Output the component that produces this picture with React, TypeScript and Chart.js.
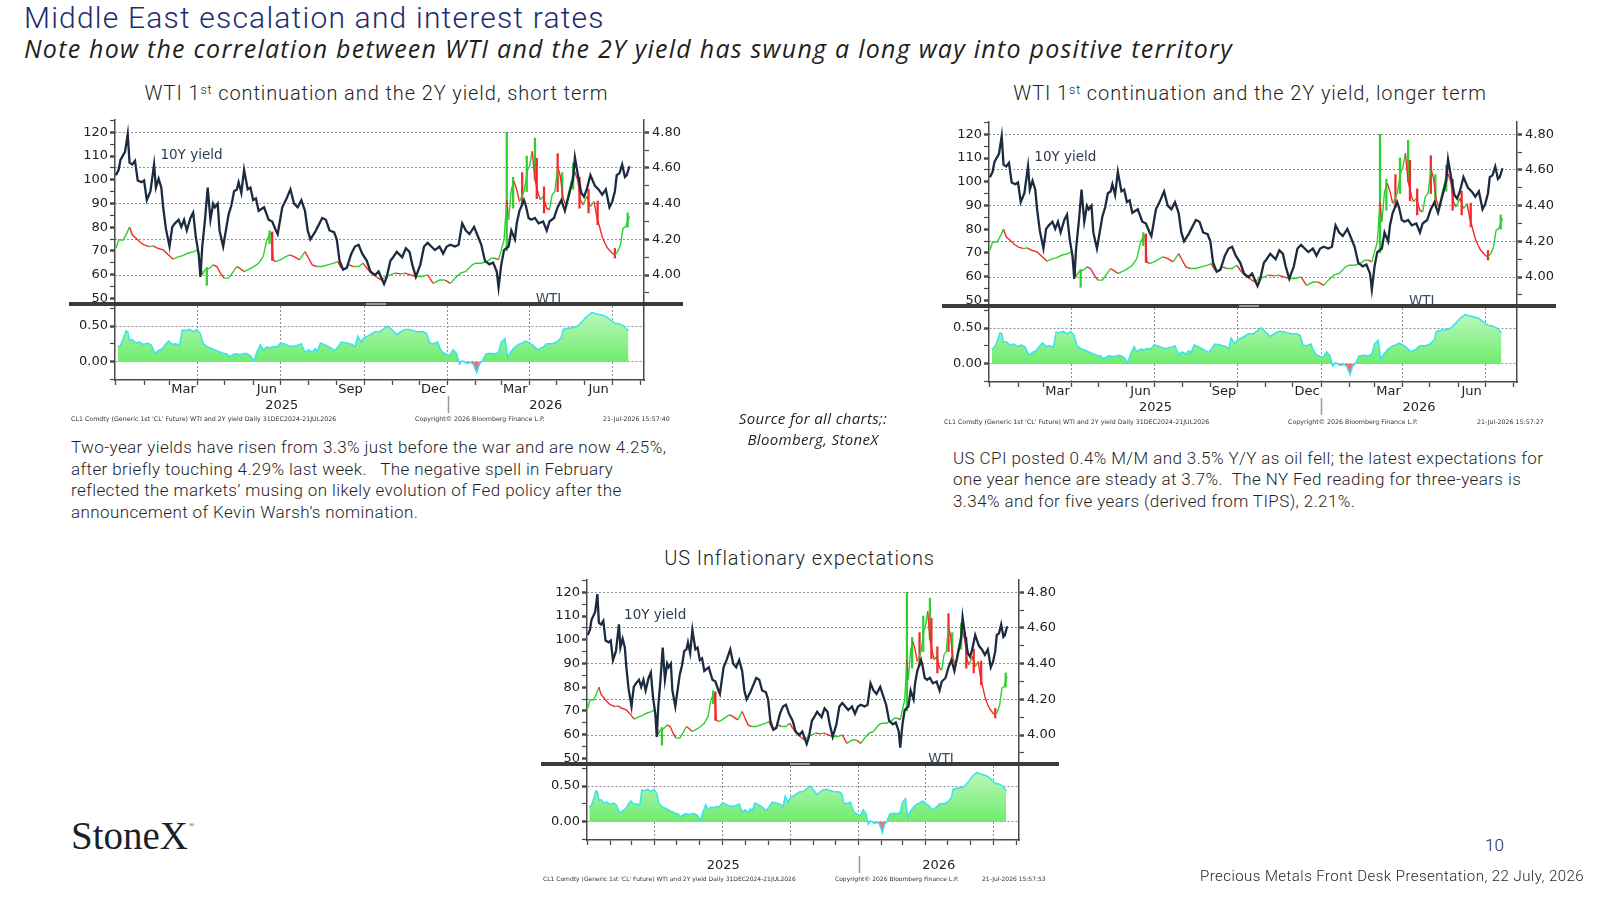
import React, { useEffect, useRef } from "react";
import { Chart, registerables } from "chart.js";

Chart.register(...registerables);

// ---------------- data (x = days since 1 Jan 2025) ----------------
const YIELD_DAYS = [
  0, 3, 5, 10, 13, 15, 18, 21, 24, 28,
  31, 34, 38, 42, 44, 47, 50, 52, 55, 59,
  62, 65, 69, 72, 75, 78, 82, 85, 88, 91,
  93, 95, 98, 101, 104, 107, 109, 112, 114, 118,
  121, 124, 127, 130, 133, 135, 138, 141, 145, 148,
  151, 154, 157, 163, 168, 172, 176, 178, 183, 187,
  192, 196, 200, 204, 208, 211, 214, 219, 222, 227,
  231, 235, 240, 243, 246, 250, 254, 259, 263, 267,
  271, 276, 280, 285, 289, 295, 298, 302, 305, 309,
  315, 319, 323, 326, 330, 335, 339, 343, 347, 351,
  356, 360, 364, 368, 373, 377, 381, 385, 389, 394,
  398, 402, 406, 411, 415, 419, 421, 424, 427, 432,
  435, 439, 441, 444, 449, 451, 454, 457, 461, 465,
  470, 474, 477, 482, 486, 490, 494, 498, 503, 505,
  508, 512, 515, 518, 522, 527, 531, 535, 539, 543,
  546, 549, 551, 554, 557, 560, 562, 565,
];
const YIELD = [
  4.56, 4.59, 4.645, 4.69, 4.79, 4.63, 4.62, 4.64, 4.53, 4.52,
  4.53, 4.42, 4.47, 4.62, 4.49, 4.54, 4.49, 4.38, 4.26, 4.16,
  4.27, 4.29, 4.31, 4.27, 4.31, 4.25, 4.32, 4.35, 4.21, 4.12,
  3.99, 4.16, 4.31, 4.49, 4.31, 4.40, 4.38, 4.40, 4.25, 4.16,
  4.25, 4.34, 4.39, 4.47, 4.48, 4.52, 4.46, 4.59, 4.48, 4.49,
  4.42, 4.43, 4.36, 4.38, 4.31, 4.30, 4.25, 4.23, 4.38, 4.42,
  4.48, 4.40, 4.38, 4.42, 4.36, 4.25, 4.20, 4.24, 4.27, 4.32,
  4.31, 4.25, 4.24, 4.20, 4.08, 4.03, 4.04, 4.12, 4.16, 4.17,
  4.12, 4.08, 4.02, 4.00, 4.02, 3.95, 3.99, 4.08, 4.10, 4.13,
  4.10, 4.15, 4.13, 4.06, 3.99, 4.06, 4.16, 4.18, 4.16, 4.14,
  4.16, 4.12, 4.16, 4.17, 4.16, 4.17, 4.29, 4.25, 4.23, 4.27,
  4.22, 4.17, 4.08, 4.06, 4.07, 4.02, 3.93, 4.06, 4.14, 4.16,
  4.25, 4.20, 4.29, 4.36, 4.42, 4.39, 4.32, 4.31, 4.32, 4.29,
  4.30, 4.25, 4.30, 4.32, 4.38, 4.42, 4.36, 4.44, 4.54, 4.66,
  4.57, 4.46, 4.44, 4.48, 4.56, 4.50, 4.48, 4.45, 4.48, 4.38,
  4.41, 4.47, 4.56, 4.57, 4.62, 4.55, 4.56, 4.61,
];

const WTI_DAYS = [
  0, 3, 8, 12, 15, 18, 22, 27, 31, 37,
  41, 46, 52, 58, 63, 69, 73, 79, 86, 90,
  93, 95, 98, 103, 107, 111, 115, 119, 124, 128,
  133, 136, 141, 145, 149, 153, 157, 162, 166, 169,
  171, 173, 176, 181, 187, 191, 196, 202, 208, 212,
  216, 221, 227, 233, 240, 244, 248, 252, 257, 261,
  267, 272, 276, 281, 286, 292, 297, 302, 307, 314,
  318, 324, 330, 337, 343, 349, 356, 362, 368, 373,
  379, 385, 392, 396, 402, 408, 413, 417, 421, 424,
  427, 430, 432, 435, 438, 441, 444, 449, 453, 455,
  458, 461, 465, 467, 470, 474, 477, 480, 483, 486,
  489, 492, 495, 498, 501, 504, 508, 511, 514, 518,
  522, 526, 529, 532, 535, 538, 541, 546, 549, 552,
  555, 558, 561, 565,
];
const WTI = [
  71.1, 74.6, 74.6, 77.5, 80.0, 76.8, 75.4, 73.5, 72.5, 71.8,
  72.1, 71.1, 70.4, 68.3, 66.5, 67.6, 67.9, 69.0, 69.7, 70.4,
  64.8, 59.9, 62.0, 62.7, 64.1, 63.4, 60.6, 58.5, 58.5, 60.6,
  63.4, 62.7, 61.3, 62.0, 62.7, 63.7, 64.8, 67.6, 74.6, 76.8,
  77.5, 66.2, 65.5, 66.2, 67.6, 68.3, 67.6, 66.2, 69.7, 66.9,
  64.1, 63.4, 63.4, 64.1, 64.8, 65.5, 62.7, 62.7, 64.1, 63.4,
  63.4, 64.8, 62.7, 60.6, 59.2, 57.7, 59.2, 59.9, 60.6, 60.3,
  60.6, 59.9, 59.2, 59.2, 59.9, 56.3, 57.7, 57.7, 56.3, 58.5,
  60.6, 61.3, 64.1, 64.8, 64.8, 65.5, 66.9, 66.9, 66.2, 70.4,
  74.6, 91.5, 83.1, 95.8, 99.3, 95.8, 90.8, 95.1, 104.2, 105.6,
  112.0, 100.0, 93.7, 91.5, 93.0, 88.0, 87.3, 93.7, 95.1, 105.6,
  101.4, 92.3, 89.4, 94.4, 99.3, 104.2, 100.0, 91.5, 89.4, 93.0,
  88.7, 90.8, 84.5, 80.3, 76.1, 73.2, 71.1, 69.0, 68.3, 69.7,
  72.5, 79.6, 80.3, 84.5,
];

// notable daily WTI ranges (low / high) and candle direction (+1 up, -1 down)
const WICK_DAYS = [100, 169, 172, 430, 437, 447, 452, 461, 463, 471, 486, 491, 503, 510, 520, 530, 549, 563];
const WICK_LOW = [55.5, 73, 66, 70, 88, 89, 95, 100, 92, 86, 95, 91, 96, 88, 86, 81, 67, 80];
const WICK_HIGH = [63, 78.5, 78, 120, 101, 103, 110, 117.5, 109, 97, 111, 103, 107, 101, 96, 91, 71, 86];
const WICK_DIR = [1, 1, -1, 1, 1, -1, 1, 1, -1, -1, -1, 1, 1, -1, -1, -1, -1, 1];

const CORR_DAYS = [
  2, 5, 9, 11, 13, 15, 18, 22, 26, 30,
  35, 39, 43, 47, 51, 55, 58, 62, 66, 70,
  73, 76, 81, 85, 89, 93, 96, 101, 106, 112,
  118, 122, 125, 131, 137, 143, 148, 152, 155, 159,
  162, 166, 170, 173, 177, 181, 185, 189, 194, 200,
  204, 208, 212, 216, 219, 222, 225, 229, 235, 241,
  244, 248, 254, 260, 263, 266, 270, 273, 279, 285,
  290, 294, 299, 302, 306, 309, 313, 318, 323, 327,
  332, 338, 342, 345, 349, 354, 356, 359, 363, 367,
  371, 375, 378, 381, 386, 390, 393, 397, 400, 403,
  407, 412, 417, 421, 424, 428, 431, 434, 439, 443,
  447, 451, 455, 459, 464, 470, 474, 480, 485, 490,
  492, 497, 503, 508, 513, 518, 524, 528, 533, 539,
  544, 549, 554, 559, 564,
];
const CORR = [
  0.205, 0.229, 0.348, 0.433, 0.419, 0.300, 0.310, 0.262, 0.276, 0.243,
  0.262, 0.229, 0.119, 0.157, 0.181, 0.252, 0.290, 0.243, 0.252, 0.229,
  0.443, 0.433, 0.452, 0.419, 0.452, 0.395, 0.252, 0.205, 0.181, 0.148,
  0.119, 0.110, 0.071, 0.110, 0.100, 0.119, 0.086, 0.014, 0.133, 0.238,
  0.167, 0.205, 0.195, 0.214, 0.205, 0.262, 0.252, 0.229, 0.214, 0.229,
  0.252, 0.133, 0.167, 0.133, 0.181, 0.157, 0.262, 0.243, 0.205, 0.157,
  0.205, 0.276, 0.262, 0.243, 0.205, 0.357, 0.276, 0.338, 0.371, 0.419,
  0.419, 0.452, 0.500, 0.467, 0.419, 0.381, 0.419, 0.452, 0.452, 0.433,
  0.419, 0.419, 0.395, 0.262, 0.252, 0.276, 0.205, 0.133, 0.110, 0.086,
  0.167, 0.110, -0.033, 0.014, -0.024, -0.010, -0.033, -0.152, -0.033, 0.005,
  0.110, 0.119, 0.110, 0.133, 0.276, 0.324, 0.062, 0.133, 0.205, 0.243,
  0.262, 0.290, 0.262, 0.229, 0.167, 0.205, 0.252, 0.252, 0.276, 0.338,
  0.452, 0.467, 0.476, 0.500, 0.562, 0.633, 0.690, 0.671, 0.657, 0.633,
  0.586, 0.538, 0.529, 0.500, 0.433,
];

// axes
const X_MIN = -1;
const X_MAX = 581;
const WTI_MIN = 48.44;
const WTI_MAX = 125.19;
const YIELD_MIN = 3.849;
const YIELD_MAX = 4.869;
const CORR_MIN = -0.256;
const CORR_MAX = 0.78;
const WTI_AXIS_TICKS = [50, 55, 60, 65, 70, 75, 80, 85, 90, 95, 100, 105, 110, 115, 120, 125];
const WTI_AXIS_LABELED = [50, 60, 70, 80, 90, 100, 110, 120];
const YIELD_AXIS_TICKS = [3.9, 4.0, 4.1, 4.2, 4.3, 4.4, 4.5, 4.6, 4.7, 4.8];
const YIELD_AXIS_LABELED = [4.0, 4.2, 4.4, 4.6, 4.8];
const CORR_AXIS_TICKS = [-0.25, 0, 0.25, 0.5, 0.75];
const CORR_AXIS_LABELED = [0, 0.5];
const MONTH_TICKS = [0, 31, 59, 90, 120, 151, 181, 212, 243, 273, 304, 334, 365, 396, 424, 455, 485, 516, 546, 577];
const QUARTER_LINES = [90, 181, 273, 365, 455, 546];
const MONTH_LABELS = ["Mar", "Jun", "Sep", "Dec", "Mar", "Jun"];
const MONTH_LABEL_DAYS = [74.5, 166, 258, 349.5, 439.5, 531];
const YEAR_LABELS = ["2025", "2026"];
const YEAR_LABEL_DAYS = [182.5, 473];
const YEAR_BREAK_DAY = 365;

// ---------------- styles ----------------
const AXIS_FONT = '"DejaVu Sans", Verdana, sans-serif';
const AXIS_COLOR = "#4a4a4a";
const TICK_TEXT = "#222222";
const GRID_COLOR = "#8e8e8e";
const UP_GREEN = "#2fcf2f";
const DOWN_RED = "#f22a2a";
const YIELD_NAVY = "#1c2b40";

const UP_PAD_TOP = 14;
const UP_PLOT_H = 182;
const UP_PAD_BOTTOM = 12;
const SEP_H = 4;
const LO_PAD_TOP = 12;
const LO_PLOT_H = 74;
const LO_AXIS_H = 40;

const near = (v: number, arr: number[]) => arr.some((a) => Math.abs(a - v) < 1e-6);

type Layout = { left: number; chartTop: number; axisL: number; plotW: number; axisR: number; months: boolean };

const CHART1: Layout = { left: 69, chartTop: 120, axisL: 46, plotW: 529, axisR: 39, months: true };
const CHART2: Layout = { left: 942, chartTop: 122, axisL: 47, plotW: 528, axisR: 39, months: true };
const CHART3: Layout = { left: 541, chartTop: 580, axisL: 46, plotW: 432, axisR: 40, months: false };

function upperConfig(L: Layout): any {
  const decor = {
    id: "upperDecor",
    afterDatasetsDraw(chart: any) {
      const { ctx, scales } = chart;
      const x = scales.x;
      const y = scales.yL;
      ctx.save();
      ctx.font = `13.5px ${AXIS_FONT}`;
      ctx.fillStyle = "#2c3b52";
      ctx.textAlign = "left";
      ctx.textBaseline = "middle";
      ctx.fillText("10Y yield", x.getPixelForValue(49), y.getPixelForValue(110.2));
      ctx.textAlign = "center";
      ctx.textBaseline = "top";
      ctx.fillStyle = "#3a4a60";
      ctx.fillText("WTI", x.getPixelForValue(476), y.getPixelForValue(52.4));
      ctx.restore();
    },
    afterDraw(chart: any) {
      const { ctx, chartArea, width } = chart;
      ctx.save();
      ctx.fillStyle = "#3b3b3b";
      ctx.fillRect(0, chartArea.bottom, width, SEP_H);
      ctx.fillStyle = "#9c9c9c";
      ctx.fillRect(width / 2 - 10, chartArea.bottom + 1, 20, 2);
      ctx.restore();
    },
  };
  return {
    type: "line",
    data: {
      datasets: [
        {
          label: "10Y yield",
          data: YIELD_DAYS.map((d, i) => ({ x: d, y: YIELD[i] })),
          yAxisID: "yR",
          borderColor: YIELD_NAVY,
          borderWidth: 2.3,
          pointRadius: 0,
          tension: 0,
          fill: false,
        },
        {
          label: "WTI",
          data: WTI_DAYS.map((d, i) => ({ x: d, y: WTI[i] })),
          yAxisID: "yL",
          borderColor: UP_GREEN,
          borderWidth: 1.4,
          pointRadius: 0,
          tension: 0,
          fill: false,
          segment: {
            borderColor: (c: any) => (c.p1.parsed.y >= c.p0.parsed.y ? UP_GREEN : DOWN_RED),
          },
        },
        {
          type: "bar",
          label: "WTI range",
          data: WICK_DAYS.map((d, i) => ({ x: d, y: [WICK_LOW[i], WICK_HIGH[i]] })),
          yAxisID: "yL",
          backgroundColor: WICK_DIR.map((s) => (s > 0 ? UP_GREEN : DOWN_RED)),
          barThickness: 1.6,
          grouped: false,
        },
      ],
    },
    options: {
      animation: false,
      responsive: true,
      maintainAspectRatio: false,
      events: [],
      layout: { padding: { top: UP_PAD_TOP, bottom: UP_PAD_BOTTOM, left: 0, right: 0 } },
      plugins: { legend: { display: false }, tooltip: { enabled: false } },
      scales: {
        x: { type: "linear", min: X_MIN, max: X_MAX, display: false, offset: false, grid: { offset: false } },
        yL: {
          type: "linear",
          position: "left",
          min: WTI_MIN,
          max: WTI_MAX,
          afterFit: (s: any) => {
            s.width = L.axisL;
          },
          afterBuildTicks: (s: any) => {
            s.ticks = WTI_AXIS_TICKS.map((v) => ({ value: v }));
          },
          ticks: {
            autoSkip: false,
            callback: (v: number) => (near(v, WTI_AXIS_LABELED) ? String(v) : ""),
            font: { family: AXIS_FONT, size: 13 },
            color: TICK_TEXT,
            padding: 2,
          },
          grid: {
            drawOnChartArea: false,
            tickLength: 5,
            tickColor: AXIS_COLOR,
            tickWidth: (c: any) => (c.tick && near(c.tick.value, WTI_AXIS_LABELED) ? 2.5 : 1.2),
          },
          border: { color: AXIS_COLOR, width: 1.5 },
        },
        yR: {
          type: "linear",
          position: "right",
          min: YIELD_MIN,
          max: YIELD_MAX,
          afterFit: (s: any) => {
            s.width = L.axisR;
          },
          afterBuildTicks: (s: any) => {
            s.ticks = YIELD_AXIS_TICKS.map((v) => ({ value: v }));
          },
          ticks: {
            autoSkip: false,
            callback: (v: number) => (near(v, YIELD_AXIS_LABELED) ? v.toFixed(2) : ""),
            font: { family: AXIS_FONT, size: 13 },
            color: TICK_TEXT,
            padding: 3,
          },
          grid: {
            drawOnChartArea: true,
            color: (c: any) => (c.tick && near(c.tick.value, YIELD_AXIS_LABELED) ? GRID_COLOR : "rgba(0,0,0,0)"),
            lineWidth: 1,
            tickLength: 5,
            tickColor: AXIS_COLOR,
            tickWidth: (c: any) => (c.tick && near(c.tick.value, YIELD_AXIS_LABELED) ? 2.5 : 1.2),
          },
          border: { color: AXIS_COLOR, width: 1.5, dash: [2, 2] },
        },
      },
    },
    plugins: [decor],
  };
}

function lowerConfig(L: Layout, canvas: HTMLCanvasElement): any {
  const g2 = canvas.getContext("2d") as CanvasRenderingContext2D;
  const zeroY = LO_PAD_TOP + (LO_PLOT_H * CORR_MAX) / (CORR_MAX - CORR_MIN);
  const grad = g2.createLinearGradient(0, LO_PAD_TOP, 0, zeroY);
  grad.addColorStop(0, "rgb(198,248,196)");
  grad.addColorStop(1, "rgb(110,236,110)");

  const decor = {
    id: "lowerDecor",
    afterDraw(chart: any) {
      const { ctx, chartArea, scales } = chart;
      const x = scales.x;
      ctx.save();
      ctx.font = `13px ${AXIS_FONT}`;
      ctx.fillStyle = TICK_TEXT;
      ctx.textAlign = "center";
      ctx.textBaseline = "middle";
      if (L.months) {
        MONTH_LABELS.forEach((m, i) => ctx.fillText(m, x.getPixelForValue(MONTH_LABEL_DAYS[i]), chartArea.bottom + 10));
      }
      YEAR_LABELS.forEach((yl, i) => ctx.fillText(yl, x.getPixelForValue(YEAR_LABEL_DAYS[i]), chartArea.bottom + 25.5));
      const bx = Math.round(x.getPixelForValue(YEAR_BREAK_DAY)) + 0.5;
      ctx.strokeStyle = "#9a9a9a";
      ctx.lineWidth = 1.5;
      ctx.beginPath();
      ctx.moveTo(bx, chartArea.bottom + 16);
      ctx.lineTo(bx, chartArea.bottom + 33);
      ctx.stroke();
      ctx.restore();
    },
  };

  return {
    type: "line",
    data: {
      datasets: [
        {
          label: "Correlation",
          data: CORR_DAYS.map((d, i) => ({ x: d, y: CORR[i] })),
          yAxisID: "y",
          borderColor: "#37e3f2",
          borderWidth: 1.5,
          pointRadius: 0,
          tension: 0,
          fill: { target: { value: 0 }, above: grad, below: "rgb(238,112,112)" },
        },
      ],
    },
    options: {
      animation: false,
      responsive: true,
      maintainAspectRatio: false,
      events: [],
      layout: { padding: { top: LO_PAD_TOP, bottom: 0, left: 0, right: 0 } },
      plugins: { legend: { display: false }, tooltip: { enabled: false } },
      scales: {
        x: {
          type: "linear",
          position: "bottom",
          min: X_MIN,
          max: X_MAX,
          offset: false,
          afterBuildTicks: (s: any) => {
            s.ticks = MONTH_TICKS.map((v) => ({ value: v }));
          },
          afterFit: (s: any) => {
            s.height = LO_AXIS_H;
          },
          ticks: { display: false, autoSkip: false },
          grid: {
            drawOnChartArea: true,
            color: (c: any) => (c.tick && near(c.tick.value, QUARTER_LINES) ? GRID_COLOR : "rgba(0,0,0,0)"),
            lineWidth: 1,
            tickLength: 5,
            tickColor: AXIS_COLOR,
            tickWidth: 1.3,
          },
          border: { color: AXIS_COLOR, width: 1.5, dash: [2, 2] },
        },
        y: {
          type: "linear",
          position: "left",
          min: CORR_MIN,
          max: CORR_MAX,
          afterFit: (s: any) => {
            s.width = L.axisL;
          },
          afterBuildTicks: (s: any) => {
            s.ticks = CORR_AXIS_TICKS.map((v) => ({ value: v }));
          },
          ticks: {
            autoSkip: false,
            callback: (v: number) => (near(v, CORR_AXIS_LABELED) ? v.toFixed(2) : ""),
            font: { family: AXIS_FONT, size: 13 },
            color: TICK_TEXT,
            padding: 2,
          },
          grid: {
            drawOnChartArea: true,
            color: (c: any) => (c.tick && near(c.tick.value, CORR_AXIS_LABELED) ? GRID_COLOR : "rgba(0,0,0,0)"),
            lineWidth: 1,
            tickLength: 5,
            tickColor: AXIS_COLOR,
            tickWidth: (c: any) => (c.tick && near(c.tick.value, CORR_AXIS_LABELED) ? 2.5 : 1.2),
          },
          border: { color: AXIS_COLOR, width: 1.5, dash: [2, 2] },
        },
        yR: {
          type: "linear",
          position: "right",
          min: 0,
          max: 1,
          afterFit: (s: any) => {
            s.width = L.axisR;
          },
          ticks: { display: false },
          grid: { drawOnChartArea: false, drawTicks: false },
          border: { color: AXIS_COLOR, width: 1.5 },
        },
      },
    },
    plugins: [decor],
  };
}

function BbgChart({ L }: { L: Layout }) {
  const upRef = useRef<HTMLCanvasElement>(null);
  const loRef = useRef<HTMLCanvasElement>(null);
  useEffect(() => {
    const up = new Chart(upRef.current as HTMLCanvasElement, upperConfig(L));
    const lo = new Chart(loRef.current as HTMLCanvasElement, lowerConfig(L, loRef.current as HTMLCanvasElement));
    return () => {
      up.destroy();
      lo.destroy();
    };
  }, []);
  const W = L.axisL + L.plotW + L.axisR;
  const upH = UP_PAD_TOP + UP_PLOT_H + UP_PAD_BOTTOM;
  const loH = LO_PAD_TOP + LO_PLOT_H + LO_AXIS_H;
  const upTop = L.chartTop - UP_PAD_TOP;
  const loTop = L.chartTop + UP_PLOT_H + SEP_H - LO_PAD_TOP;
  return (
    <>
      <div style={{ position: "absolute", left: L.left, top: loTop, width: W, height: loH }}>
        <canvas ref={loRef} />
      </div>
      <div style={{ position: "absolute", left: L.left, top: upTop, width: W, height: upH }}>
        <canvas ref={upRef} />
      </div>
    </>
  );
}

const SANS = "Roboto, 'Noto Sans', sans-serif";

function Abs({ l, t, children, style }: any) {
  return (
    <div style={{ position: "absolute", left: l, top: t, whiteSpace: "nowrap", ...style }}>{children}</div>
  );
}

function Footer({ t, size, parts }: any) {
  return (
    <>
      {parts.map((p: any, i: number) => (
        <Abs key={i} l={p[0]} t={t} style={{ fontFamily: AXIS_FONT, fontSize: size, lineHeight: "8px", color: "#333" }}>
          {p[1]}
        </Abs>
      ))}
    </>
  );
}

const SRC1 = "CL1 Comdty (Generic 1st 'CL' Future) WTI and 2Y yield Daily 31DEC2024-21JUL2026";
const COPY = "Copyright\u00A9 2026 Bloomberg Finance L.P.";

export default function App() {
  const sup = { fontSize: "0.62em", position: "relative", top: "-0.5em", lineHeight: 0 } as any;
  const chartTitle = {
    fontFamily: SANS,
    fontSize: 20,
    lineHeight: "20px",
    fontWeight: 300,
    letterSpacing: "0.9px",
    color: "#1f1f1f",
    width: 600,
    textAlign: "center",
  } as any;
  const body = {
    fontFamily: SANS,
    fontSize: 17,
    lineHeight: "21.67px",
    fontWeight: 300,
    letterSpacing: "0.4px",
    color: "#1f1f1f",
  } as any;
  return (
    <div
      style={{
        position: "absolute",
        left: 0,
        top: 0,
        width: 1600,
        height: 900,
        background: "#ffffff",
        overflow: "hidden",
        fontFamily: SANS,
      }}
    >
      <Abs l={24} t={2.6} style={{ fontSize: 30, lineHeight: "30px", fontWeight: 300, letterSpacing: "1.2px", color: "#1b2d6e" }}>
        Middle East escalation and interest rates
      </Abs>
      <Abs
        l={24}
        t={36}
        style={{
          fontFamily: "'Open Sans', sans-serif",
          fontStyle: "italic",
          fontSize: 25,
          lineHeight: "25px",
          letterSpacing: "1.25px",
          color: "#1f1f1f",
        }}
      >
        Note how the correlation between WTI and the 2Y yield has swung a long way into positive territory
      </Abs>

      <Abs l={376.5 - 300} t={83} style={chartTitle}>
        WTI 1<span style={sup}>st</span> continuation and the 2Y yield, short term
      </Abs>
      <Abs l={1250 - 300} t={83} style={chartTitle}>
        WTI 1<span style={sup}>st</span> continuation and the 2Y yield, longer term
      </Abs>
      <Abs l={799.5 - 300} t={548} style={chartTitle}>
        US Inflationary expectations
      </Abs>

      <BbgChart L={CHART1} />
      <BbgChart L={CHART2} />
      <BbgChart L={CHART3} />

      <Footer t={415} size={6.3} parts={[[71, SRC1], [415, COPY], [603, "21-Jul-2026 15:57:40"]]} />
      <Footer t={417.7} size={6.3} parts={[[944, SRC1], [1288, COPY], [1477, "21-Jul-2026 15:57:27"]]} />
      <Footer t={875} size={6.0} parts={[[543, SRC1], [835, COPY], [982, "21-Jul-2026 15:57:53"]]} />

      <Abs l={71} t={437} style={body}>
        Two-year yields have risen from 3.3% just before the war and are now 4.25%,
        <br />
        after briefly touching 4.29% last week.&nbsp;&nbsp; The negative spell in February
        <br />
        reflected the markets’ musing on likely evolution of Fed policy after the
        <br />
        announcement of Kevin Warsh’s nomination.
      </Abs>
      <Abs l={953} t={447.6} style={body}>
        US CPI posted 0.4% M/M and 3.5% Y/Y as oil fell; the latest expectations for
        <br />
        one year hence are steady at 3.7%.&nbsp; The NY Fed reading for three-years is
        <br />
        3.34% and for five years (derived from TIPS), 2.21%.
      </Abs>
      <Abs
        l={813 - 100}
        t={407.7}
        style={{
          width: 200,
          textAlign: "center",
          fontFamily: "'Open Sans', sans-serif",
          fontStyle: "italic",
          fontSize: 15,
          lineHeight: "21px",
          letterSpacing: "0.35px",
          color: "#1f1f1f",
        }}
      >
        Source for all charts;:
        <br />
        Bloomberg, StoneX
      </Abs>

      <Abs l={71} t={816} style={{ fontFamily: "'Liberation Serif', serif", fontSize: 39, lineHeight: "39px", color: "#1b1f2b" }}>
        StoneX
        <span style={{ fontSize: 7, position: "relative", top: -22, marginLeft: 1 }}>®</span>
      </Abs>
      <Abs l={1485} t={836.5} style={{ fontSize: 17, lineHeight: "17px", fontWeight: 300, color: "#1f1f1f" }}>
        10
      </Abs>
      <div
        style={{
          position: "absolute",
          right: 16,
          top: 868.6,
          fontSize: 15,
          lineHeight: "15px",
          fontWeight: 300,
          letterSpacing: "0.45px",
          color: "#1f1f1f",
          whiteSpace: "nowrap",
        }}
      >
        Precious Metals Front Desk Presentation, 22 July, 2026
      </div>
    </div>
  );
}
